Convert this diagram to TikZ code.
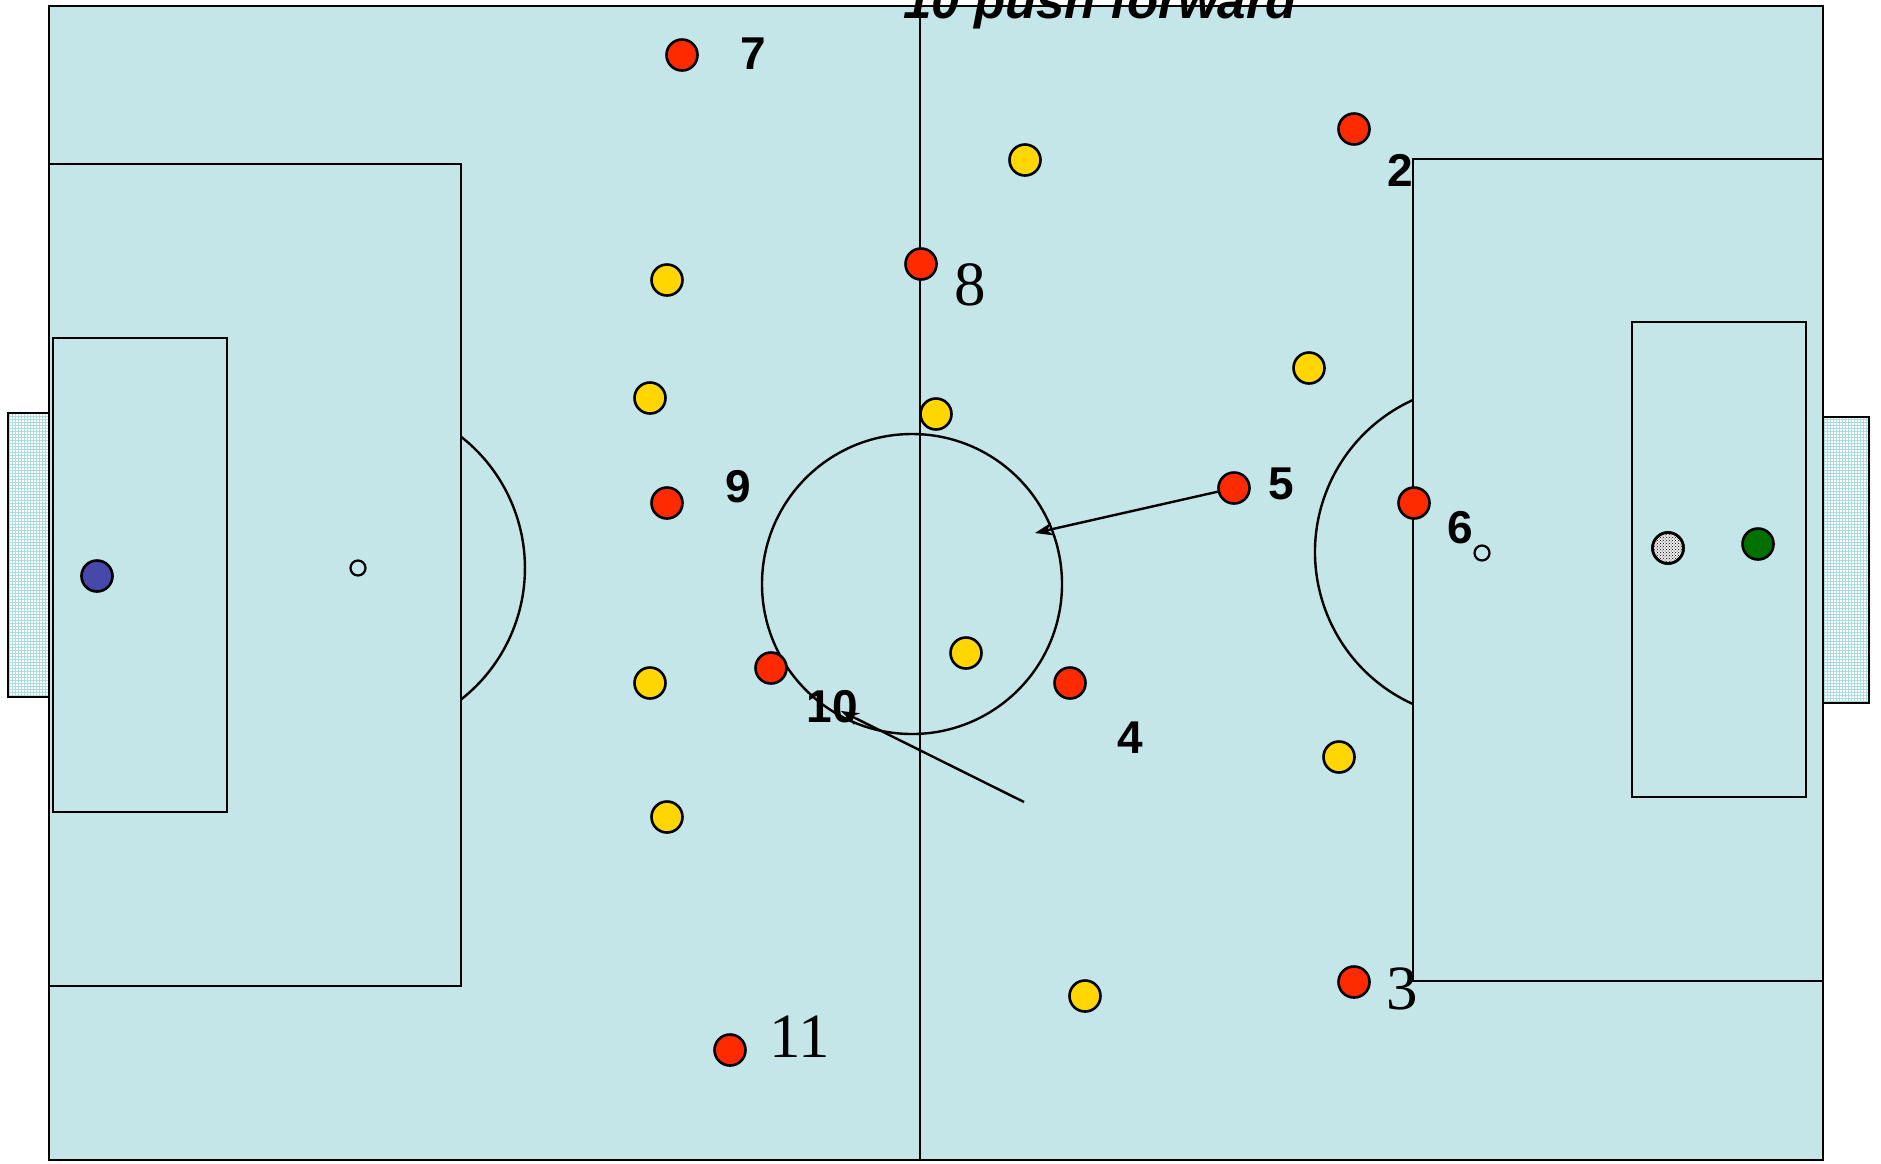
\documentclass[tikz,border=0pt]{standalone}
\usepackage{fontspec}
\setmainfont{Liberation Sans}
\newfontfamily\serifnum{Liberation Serif}
\usetikzlibrary{patterns,arrows.meta}
\definecolor{pitchc}{RGB}{196,230,232}
\definecolor{redc}{RGB}{255,42,0}
\definecolor{yelc}{RGB}{255,214,0}
\definecolor{bluec}{RGB}{70,72,170}
\definecolor{greenc}{RGB}{0,112,0}
\definecolor{netc}{RGB}{170,220,225}
\begin{document}
\begin{tikzpicture}[x=1pt,y=-1pt,
  pline/.style={line width=2.4pt, draw=black},
  player/.style={circle, draw=black, line width=2.6pt, minimum size=31pt, inner sep=0pt},
  redp/.style={player, fill=redc},
  yelp/.style={player, fill=yelc},
  numlbl/.style={font=\fontsize{46}{46}\selectfont\bfseries, inner sep=0pt},
  serlbl/.style={font=\fontsize{63}{63}\selectfont\serifnum, inner sep=0pt},
  mv/.style={line width=2.4pt, -{Stealth[length=18pt,width=13pt]}},
  spot/.style={circle, draw=black, line width=2.2pt, minimum size=15pt, inner sep=0pt}
]
\useasboundingbox (0,0) rectangle (1881,1163);
% pitch
\fill[pitchc] (49,6) rectangle (1823,1160);
% goal nets
\fill[white] (8,413) rectangle (49,697);
\fill[pattern=grid, pattern color=netc] (8,413) rectangle (49,697);
\draw[line width=2.6pt] (49,413) -- (8,413) -- (8,697) -- (49,697);
\fill[white] (1823,417) rectangle (1869,703);
\fill[pattern=grid, pattern color=netc] (1823,417) rectangle (1869,703);
\draw[line width=2.6pt] (1823,417) -- (1869,417) -- (1869,703) -- (1823,703);
% lines
\draw[pline] (49,6) rectangle (1823,1160);
\draw[pline] (920,6) -- (920,1160);
\draw[pline] (49,164) rectangle (461,986);
\draw[pline] (53,338) rectangle (227,812);
\draw[pline] (1413,159) rectangle (1823,981);
\draw[pline] (1632,322) rectangle (1806,797);
\draw[pline] (461,699.5) arc[start angle=51.9, end angle=-51.9, radius=167];
\draw[pline] (1413,704.1) arc[start angle=114.4, end angle=245.6, radius=167];
\draw[pline] (912,584) circle[radius=150];
\node[spot] (lspot) at (358,568) {};
\node[spot] (rspot) at (1482,553) {};
% movement arrow ends
\coordinate (t5) at (1035,533);
\coordinate (a10s) at (1024,802);
\coordinate (a10t) at (841,711);
% players red
\node[redp] (r7) at (682,55) {};
\node[redp] (r2) at (1354,129) {};
\node[redp] (r8) at (921,264) {};
\node[redp] (r9) at (667,503) {};
\node[redp] (r5) at (1234,488) {};
\node[redp] (r6) at (1414,503) {};
\node[redp] (r10) at (771,668) {};
\node[redp] (r4) at (1070,683) {};
\node[redp] (r3) at (1354,982) {};
\node[redp] (r11) at (730,1050) {};
% players yellow
\node[yelp] (y1) at (1025,160) {};
\node[yelp] (y2) at (667,280) {};
\node[yelp] (y3) at (650,398) {};
\node[yelp] (y4) at (936,414) {};
\node[yelp] (y5) at (1309,368) {};
\node[yelp] (y6) at (966,653) {};
\node[yelp] (y7) at (650,683) {};
\node[yelp] (y8) at (1339,757) {};
\node[yelp] (y9) at (667,817) {};
\node[yelp] (y10) at (1085,996) {};
% keepers and ball
\node[player, fill=bluec] (gk1) at (97,576) {};
\node[player, fill=greenc] (gk2) at (1758,544) {};
\node[player, fill=gray!15] (ball0) at (1668,548) {};
\fill[pattern=crosshatch dots, pattern color=black] (ball0.center) circle[radius=14];
\draw[line width=2.6pt] (ball0.center) circle[radius=15.5];
% arrows
\draw[mv] (r5) -- (t5);
\draw[mv] (a10s) -- (a10t);
% labels
\node[numlbl] (l7) at (753,54) {7};
\node[numlbl] (l2) at (1400,170) {2};
\node[serlbl] (l8) at (970,285) {8};
\node[numlbl] (l9) at (738,487) {9};
\node[numlbl] (l5) at (1281,484) {5};
\node[numlbl] (l6) at (1460,528) {6};
\node[numlbl] (l10) at (832,707) {10};
\node[numlbl] (l4) at (1130,738) {4};
\node[serlbl] (l3) at (1402,989) {3};
\node[serlbl] (l11) at (800,1037) {11};
\node[anchor=base west, inner sep=0pt, font=\fontsize{51}{51}\selectfont\bfseries\itshape] (title) at (903,18) {10 push forward};
\end{tikzpicture}
\end{document}
